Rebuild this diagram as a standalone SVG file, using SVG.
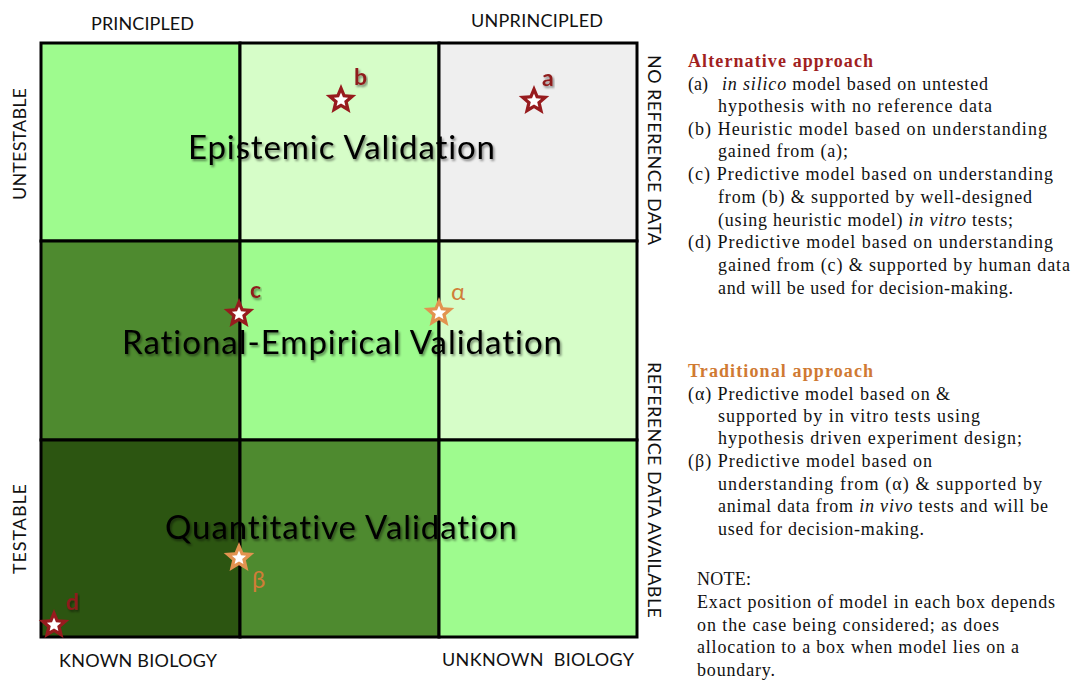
<svg xmlns="http://www.w3.org/2000/svg" width="1072" height="682" viewBox="0 0 1072 682">
<defs>
<style>
.cell{stroke:#000;stroke-width:3}
.big{font-family:Lato,"Open Sans","Liberation Sans",sans-serif;font-size:33px;fill:#000;font-variant-ligatures:none}
.ax{font-family:Lato,"Open Sans","Liberation Sans",sans-serif;font-size:18px;fill:#111}
.lbr{font-family:Lato,"Open Sans","Liberation Sans",sans-serif;font-size:23px;font-weight:bold;fill:#8e1b1b}
.lbo{font-family:Lato,"Open Sans","Liberation Sans",sans-serif;font-size:24px;fill:#d07d38}
.lg{font-family:"Liberation Serif",serif;font-size:18px;fill:#111}
.hr{font-weight:bold;fill:#a11f1f}
.ho{font-weight:bold;fill:#d07a33}
.it{font-style:italic}
</style>
<filter id="sh" x="-5%" y="-30%" width="112%" height="170%">
<feDropShadow dx="1.5" dy="2" stdDeviation="1.3" flood-color="#000" flood-opacity="0.45"/>
</filter>
<path id="star" d="M0,-15 L3.97,-5.46 L14.27,-4.64 L6.42,2.09 L8.82,12.14 L0,6.75 L-8.82,12.14 L-6.42,2.09 L-14.27,-4.64 L-3.97,-5.46 Z"/>
</defs>
<rect width="1072" height="682" fill="#fff"/>

<g id="grid">
<rect id="cell-r1c1" class="cell" x="41" y="43" width="199" height="198" fill="#9efb8e"/>
<rect id="cell-r1c2" class="cell" x="240" y="43" width="199" height="198" fill="#d6fdc8"/>
<rect id="cell-r1c3" class="cell" x="439" y="43" width="198" height="198" fill="#efefef"/>
<rect id="cell-r2c1" class="cell" x="41" y="241" width="199" height="199" fill="#4e8a2f"/>
<rect id="cell-r2c2" class="cell" x="240" y="241" width="199" height="199" fill="#9efb8e"/>
<rect id="cell-r2c3" class="cell" x="439" y="241" width="198" height="199" fill="#d6fdc8"/>
<rect id="cell-r3c1" class="cell" x="41" y="440" width="199" height="197" fill="#2c5511"/>
<rect id="cell-r3c2" class="cell" x="240" y="440" width="199" height="197" fill="#4e8a2f"/>
<rect id="cell-r3c3" class="cell" x="439" y="440" width="198" height="197" fill="#9efb8e"/>
</g>

<g id="band-labels" filter="url(#sh)">
<text class="big" x="188" y="159" textLength="307">Epistemic Validation</text>
<text class="big" x="122" y="354" textLength="440">Rational-Empirical Validation</text>
<text class="big" x="165" y="539" textLength="352">Quantitative Validation</text>
</g>

<g id="axes">
<text class="ax" x="91" y="30" textLength="103">PRINCIPLED</text>
<text class="ax" x="471" y="27" textLength="132">UNPRINCIPLED</text>
<text class="ax" x="59" y="667" textLength="158">KNOWN BIOLOGY</text>
<text class="ax" x="442" y="666" textLength="192" xml:space="preserve">UNKNOWN  BIOLOGY</text>
<text class="ax" transform="translate(26,144) rotate(-90)" text-anchor="middle" textLength="112">UNTESTABLE</text>
<text class="ax" transform="translate(26,529) rotate(-90)" text-anchor="middle" textLength="90">TESTABLE</text>
<text class="ax" transform="translate(648,150) rotate(90)" text-anchor="middle" textLength="190">NO REFERENCE DATA</text>
<text class="ax" transform="translate(648,490) rotate(90)" text-anchor="middle" textLength="256">REFERENCE DATA AVAILABLE</text>
</g>

<g id="model-a">
<use href="#star" transform="translate(534,101) scale(1.07)" fill="#971b1e"/>
<use href="#star" transform="translate(534,101) scale(0.5)" fill="#fff"/>
<text class="lbr" x="542" y="86" filter="url(#sh)">a</text>
</g>
<g id="model-b">
<use href="#star" transform="translate(341,100) scale(1.07)" fill="#971b1e"/>
<use href="#star" transform="translate(341,100) scale(0.5)" fill="#fff"/>
<text class="lbr" x="354" y="85" filter="url(#sh)">b</text>
</g>
<g id="model-c">
<use href="#star" transform="translate(239,314) scale(1.07)" fill="#971b1e"/>
<use href="#star" transform="translate(239,314) scale(0.5)" fill="#fff"/>
<text class="lbr" x="250" y="298" filter="url(#sh)">c</text>
</g>
<g id="model-d">
<use href="#star" transform="translate(54,625) scale(1.07)" fill="#971b1e"/>
<use href="#star" transform="translate(54,625) scale(0.5)" fill="#fff"/>
<text class="lbr" x="66" y="610" filter="url(#sh)">d</text>
</g>
<g id="model-alpha">
<use href="#star" transform="translate(439,313) scale(1.07)" fill="#e29350"/>
<use href="#star" transform="translate(439,313) scale(0.5)" fill="#fff"/>
<text class="lbo" x="451" y="300">α</text>
</g>
<g id="model-beta">
<use href="#star" transform="translate(239,558) scale(1.07)" fill="#e29350"/>
<use href="#star" transform="translate(239,558) scale(0.5)" fill="#fff"/>
<text class="lbo" x="252" y="588">β</text>
</g>

<g id="connectors"></g>

<g id="legend-alternative">
<text class="lg hr" x="688" y="67" textLength="185">Alternative approach</text>
<text class="lg" x="688" y="90">(a)</text>
<text class="lg" x="722" y="90" textLength="266"><tspan class="it">in silico</tspan> model based on untested</text>
<text class="lg" x="718" y="112" textLength="274">hypothesis with no reference data</text>
<text class="lg" x="688" y="135" textLength="359">(b) Heuristic model based on understanding</text>
<text class="lg" x="718" y="157" textLength="130">gained from (a);</text>
<text class="lg" x="688" y="180" textLength="365">(c) Predictive model based on understanding</text>
<text class="lg" x="718" y="203" textLength="314">from (b) &amp; supported by well-designed</text>
<text class="lg" x="718" y="226" textLength="295">(using heuristic model) <tspan class="it">in vitro</tspan> tests;</text>
<text class="lg" x="688" y="248" textLength="365">(d) Predictive model based on understanding</text>
<text class="lg" x="718" y="271" textLength="352">gained from (c) &amp; supported by human data</text>
<text class="lg" x="718" y="294" textLength="295">and will be used for decision-making.</text>
</g>

<g id="legend-traditional">
<text class="lg ho" x="688" y="377" textLength="185">Traditional approach</text>
<text class="lg" x="688" y="400" textLength="262">(α) Predictive model based on &amp;</text>
<text class="lg" x="718" y="422" textLength="262">supported by in vitro tests using</text>
<text class="lg" x="718" y="444" textLength="304">hypothesis driven experiment design;</text>
<text class="lg" x="688" y="467" textLength="244">(β) Predictive model based on</text>
<text class="lg" x="718" y="490" textLength="324">understanding from (α) &amp; supported by</text>
<text class="lg" x="718" y="512" textLength="330">animal data from <tspan class="it">in vivo</tspan> tests and will be</text>
<text class="lg" x="718" y="535" textLength="206">used for decision-making.</text>
</g>

<g id="note">
<text class="lg" x="697" y="585" textLength="54">NOTE:</text>
<text class="lg" x="697" y="608" textLength="358">Exact position of model in each box depends</text>
<text class="lg" x="697" y="631" textLength="302">on the case being considered; as does</text>
<text class="lg" x="697" y="653" textLength="322">allocation to a box when model lies on a</text>
<text class="lg" x="697" y="676" textLength="78">boundary.</text>
</g>
</svg>
